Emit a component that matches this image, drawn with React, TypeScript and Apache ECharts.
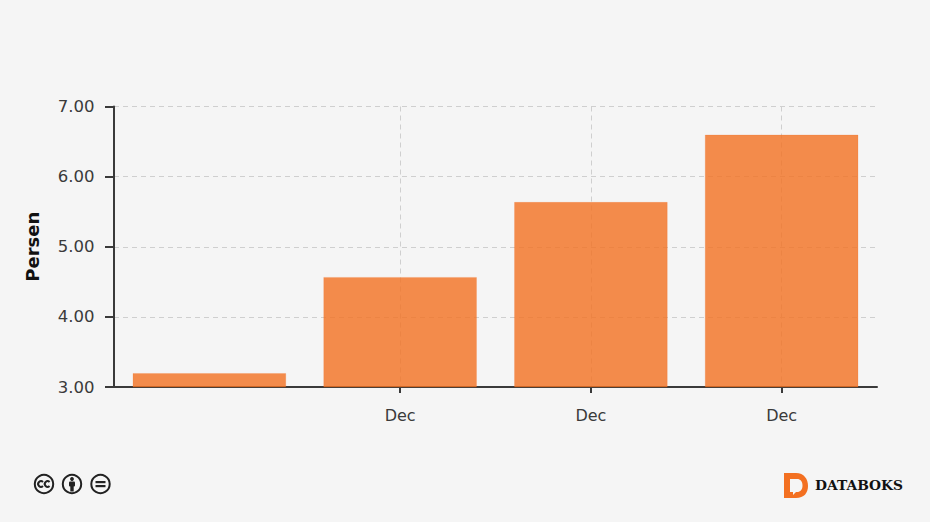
import React, { useEffect, useRef } from "react";
import * as echarts from "echarts";

const categories = ["", "Dec", "Dec", "Dec"];
const values = [3.2, 4.57, 5.64, 6.6];
const yAxisName = "Persen";
const brand = "DATABOKS";

const FONT = "'DejaVu Sans', Verdana, sans-serif";
const AXIS = "#3a3a3a";

echarts.graphic.registerShape(
  "dbLogo",
  echarts.graphic.extendPath(
    "M0 0H12C20 0 24 6 24 13C24 20 20 25 12 25H0Z M6 6V19H9V22L12 19H13C16.5 19 18.5 16.5 18.5 12.5C18.5 8.5 16.5 6 13 6Z",
    {}
  )
);

export default function App() {
  const ref = useRef<HTMLDivElement>(null);
  useEffect(() => {
    const chart = echarts.init(ref.current!, undefined, { renderer: "svg" });
    const notFirst = (i: number) => i > 0;
    const dash = { color: "#cfcfcf", width: 1, type: [5, 4] as number[] };
    const icon = (cx: number, children: any[]) => ({
      type: "group",
      x: cx,
      y: 484,
      children: [
        { type: "circle", shape: { cx: 0, cy: 0, r: 9.2 }, style: { fill: "#f5f5f5", stroke: "#222", lineWidth: 2 } },
        ...children,
      ],
    });
    chart.setOption({
      animation: false,
      backgroundColor: "#f5f5f5",
      grid: { left: 114, right: 53, top: 106.5, height: 280.5, containLabel: false },
      xAxis: {
        type: "category",
        data: categories,
        axisLine: { show: true, lineStyle: { color: AXIS, width: 2 } },
        axisTick: { show: true, alignWithLabel: true, interval: (i: number) => notFirst(i), length: 6, lineStyle: { color: AXIS, width: 2 } },
        axisLabel: { show: true, interval: 0, fontFamily: FONT, fontSize: 16, color: AXIS, margin: 20 },
        splitLine: { show: true, alignWithLabel: true, interval: (i: number) => notFirst(i), lineStyle: dash },
      },
      yAxis: {
        type: "value",
        min: 3,
        max: 7,
        interval: 1,
        name: yAxisName,
        nameLocation: "middle",
        nameGap: 72.5,
        nameRotate: 90,
        nameTextStyle: { fontFamily: FONT, fontSize: 18, fontWeight: "bold", color: "#111" },
        axisLine: { show: true, lineStyle: { color: AXIS, width: 2 } },
        axisTick: { show: true, length: 9, lineStyle: { color: AXIS, width: 2 } },
        axisLabel: { fontFamily: FONT, fontSize: 16.5, color: AXIS, margin: 19.5, formatter: (v: number) => v.toFixed(2) },
        splitLine: { show: true, lineStyle: dash },
      },
      series: [
        {
          type: "bar",
          data: values,
          barCategoryGap: "19.4%",
          itemStyle: { color: "rgba(243,112,33,0.8)", borderColor: "rgba(243,112,33,0.2)", borderWidth: 1 },
        },
      ],
      graphic: [
        icon(44, [
          { type: "arc", shape: { cx: -3, cy: 0, r: 2.8, startAngle: 0.8, endAngle: 5.5, clockwise: true }, style: { stroke: "#222", fill: "none", lineWidth: 2 } },
          { type: "arc", shape: { cx: 3.6, cy: 0, r: 2.8, startAngle: 0.8, endAngle: 5.5, clockwise: true }, style: { stroke: "#222", fill: "none", lineWidth: 2 } },
        ]),
        icon(72, [
          { type: "circle", shape: { cx: 0, cy: -5, r: 1.9 }, style: { fill: "#222" } },
          { type: "rect", shape: { x: -3, y: -2.5, width: 6, height: 5, r: 1 }, style: { fill: "#222" } },
          { type: "rect", shape: { x: -1.7, y: 1, width: 3.4, height: 6.5 }, style: { fill: "#222" } },
        ]),
        icon(100.5, [
          { type: "rect", shape: { x: -5, y: -3, width: 10, height: 2.2 }, style: { fill: "#222" } },
          { type: "rect", shape: { x: -5, y: 1, width: 10, height: 2.2 }, style: { fill: "#222" } },
        ]),
        { type: "dbLogo", x: 784, y: 473, style: { fill: "#f37021" } },
        {
          type: "text",
          x: 815,
          y: 478,
          style: { text: brand, fontFamily: "'DejaVu Serif', serif", fontWeight: "bold", fontSize: 13.8, fill: "#111" },
        },
      ],
    });
    return () => chart.dispose();
  }, []);
  return <div ref={ref} style={{ position: "fixed", left: 0, top: 0, width: 930, height: 522 }} />;
}
